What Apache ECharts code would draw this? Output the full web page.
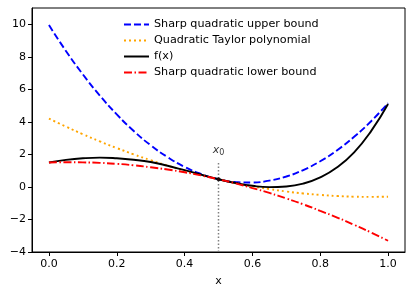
<!DOCTYPE html>
<html>
<head>
<meta charset="utf-8">
<script src="https://cdn.jsdelivr.net/npm/echarts@6/dist/echarts.min.js"></script>
<style>
html,body{margin:0;padding:0;background:#fff;}
#c{width:415px;height:294px;}
</style>
</head>
<body>
<div id="c"></div>
<script>
// x sample points
const xs = [0.00,0.05,0.10,0.15,0.20,0.25,0.30,0.35,0.40,0.45,0.50,0.55,0.60,0.65,0.70,0.75,0.80,0.85,0.90,0.95,1.00];
// Sharp quadratic upper bound
const upperVals = [9.95,8.36,6.92,5.62,4.46,3.44,2.56,1.83,1.23,0.78,0.47,0.30,0.27,0.39,0.64,1.04,1.58,2.26,3.08,4.04,5.15];
// Quadratic Taylor polynomial
const taylorVals = [4.20,3.71,3.24,2.80,2.39,2.00,1.64,1.31,1.00,0.72,0.47,0.24,0.04,-0.13,-0.28,-0.40,-0.49,-0.56,-0.60,-0.61,-0.60];
// f(x)
const fVals = [1.50,1.66,1.76,1.80,1.76,1.67,1.53,1.30,1.03,0.75,0.47,0.24,0.07,-0.01,0.03,0.21,0.59,1.21,2.13,3.43,5.10];
// Sharp quadratic lower bound
const lowerVals = [1.50,1.52,1.51,1.48,1.42,1.33,1.21,1.07,0.90,0.70,0.47,0.22,-0.07,-0.37,-0.71,-1.07,-1.47,-1.88,-2.33,-2.80,-3.31];
// expansion point
const x0 = 0.5;
const fx0 = 0.47;
const x0LineTop = 1.5;
const x0LabelY = 1.85;
// ticks
const xTicks = [0.0,0.2,0.4,0.6,0.8,1.0];
const yTicks = [-4,-2,0,2,4,6,8,10];
const names = ['Sharp quadratic upper bound','Quadratic Taylor polynomial','f(x)','Sharp quadratic lower bound'];

const pair = (vals) => xs.map((x,i)=>[x, vals[i]]);
const font = 'DejaVu Sans';

const chart = echarts.init(document.getElementById('c'), null, {renderer:'canvas'});
chart.setOption({
  animation:false,
  backgroundColor:'#fff',
  textStyle:{fontFamily:font},
  grid:{left:32,right:10,top:8,bottom:42,show:true,borderColor:'#000',borderWidth:1,backgroundColor:'transparent'},
  legend:{
    orient:'vertical', left:118, top:14, itemWidth:25, itemHeight:10, itemGap:5,
    textStyle:{fontFamily:font,fontSize:11.2,color:'#000'},
    itemStyle:{opacity:0},
    lineStyle:{width:2},
    data:names
  },
  xAxis:{
    type:'value', min:-0.05, max:1.05,
    name:'x', nameLocation:'middle', nameGap:24,
    nameTextStyle:{fontFamily:font,fontSize:11,color:'#000'},
    axisLine:{show:true,onZero:false,lineStyle:{color:'#000',width:1}},
    axisTick:{show:true,length:4,customValues:xTicks,lineStyle:{color:'#000'}},
    axisLabel:{customValues:xTicks,fontFamily:font,fontSize:11,color:'#000',margin:7,formatter:v=>v.toFixed(1)},
    splitLine:{show:false}
  },
  yAxis:{
    type:'value', min:-4, max:11,
    axisLine:{show:true,onZero:false,lineStyle:{color:'#000',width:1}},
    axisTick:{show:true,length:4,customValues:yTicks,lineStyle:{color:'#000'}},
    axisLabel:{customValues:yTicks,fontFamily:font,fontSize:11,color:'#000',margin:6,formatter:v=>(v<0?'\u2212'+(-v):''+v)},
    splitLine:{show:false}
  },
  series:[
    {name:names[0],type:'line',data:pair(upperVals),smooth:true,symbol:'none',
     lineStyle:{color:'#0000ff',width:1.9,type:[7,3]},itemStyle:{color:'#0000ff'},z:3},
    {name:names[1],type:'line',data:pair(taylorVals),smooth:true,symbol:'none',
     lineStyle:{color:'#ffa500',width:1.9,type:[2,3]},itemStyle:{color:'#ffa500'},z:3},
    {name:names[2],type:'line',data:pair(fVals),smooth:true,symbol:'none',
     lineStyle:{color:'#000',width:1.9},itemStyle:{color:'#000'},z:3},
    {name:names[3],type:'line',data:pair(lowerVals),smooth:true,symbol:'none',
     lineStyle:{color:'#ff0000',width:1.9,type:[8,2.5,1.5,2.5]},itemStyle:{color:'#ff0000'},z:3},
    {type:'line',data:[[x0,-4],[x0,x0LineTop]],symbol:'none',silent:true,
     lineStyle:{color:'#808080',width:1.5,type:[1.5,2]},z:2},
    {type:'scatter',data:[[x0,fx0]],symbolSize:4,itemStyle:{color:'#000'},z:5,silent:true},
    {type:'scatter',data:[[x0,x0LabelY]],symbolSize:0,silent:true,
     label:{show:true,position:'top',distance:0,formatter:'{a|x}{b|0}',
       rich:{a:{fontFamily:font,fontStyle:'italic',fontSize:11,color:'#000'},
             b:{fontFamily:font,fontSize:8,color:'#000',padding:[5,0,0,0]}}}}
  ]
});
</script>
</body>
</html>
